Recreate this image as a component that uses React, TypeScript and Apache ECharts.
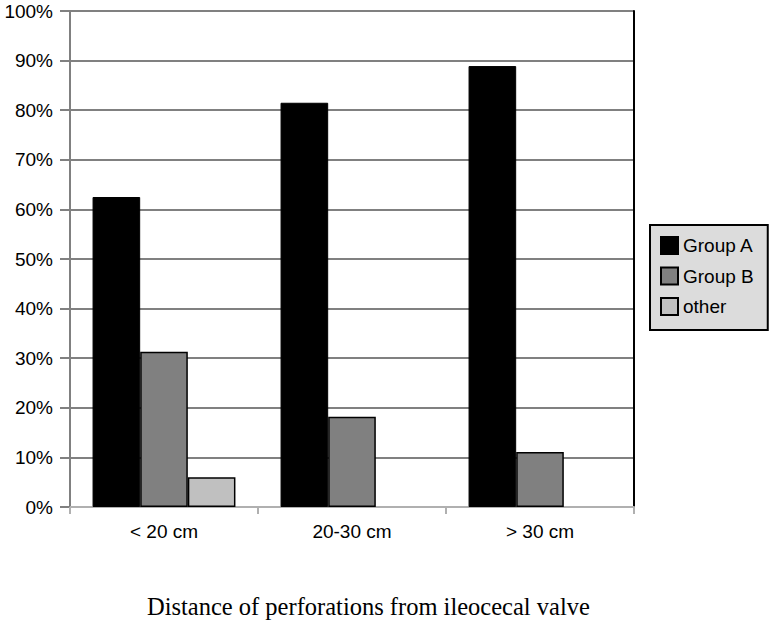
import React, { useEffect, useRef } from "react";
import * as echarts from "echarts";

const categories = ["< 20 cm", "20-30 cm", "> 30 cm"];
const groupA = [62.5, 81.5, 88.9];
const groupB = [31.3, 18.2, 11.1];
const other = [6.0, 0, 0];
const seriesNames = ["Group A", "Group B", "other"];
const xTitle = "Distance of perforations from ileocecal valve";

export default function App() {
  const ref = useRef<HTMLDivElement>(null);
  useEffect(() => {
    if (!ref.current) return;
    const chart = echarts.init(ref.current, null, { renderer: "svg" });
    const sans = "Liberation Sans, Arial, sans-serif";
    const withBorder = (vals: number[]) =>
      vals.map((v) => (v === 0 ? { value: v, itemStyle: { borderWidth: 0 } } : v));
    chart.setOption({
      animation: false,
      backgroundColor: "#fff",
      title: {
        text: xTitle,
        left: 147,
        top: 594,
        padding: 0,
        textStyle: {
          fontFamily: "Liberation Serif, Times New Roman, serif",
          fontSize: 24.5,
          fontWeight: "normal",
          color: "#000",
        },
      },
      legend: {
        orient: "vertical",
        left: 650,
        top: 225,
        data: seriesNames,
        backgroundColor: "#dcdcdc",
        borderColor: "#000",
        borderWidth: 2,
        padding: [11, 14, 14, 10],
        itemWidth: 17,
        itemHeight: 17,
        itemGap: 11.5,
        icon: "rect",
        textStyle: { fontFamily: sans, fontSize: 19, color: "#000", lineHeight: 18, padding: [0, 0, 0, 0] },
      },
      grid: { left: 70, right: 141, top: 11, bottom: 115, containLabel: false },
      xAxis: {
        type: "category",
        data: categories,
        axisLine: { show: true, lineStyle: { color: "#b0b0b0", width: 2 } },
        axisTick: { show: true, length: 7, lineStyle: { color: "#b0b0b0", width: 2 } },
        axisLabel: { fontFamily: sans, fontSize: 19, color: "#000", margin: 15 },
        splitLine: { show: false },
      },
      yAxis: [
        {
          type: "value",
          min: 0,
          max: 100,
          interval: 10,
          axisLine: { show: true, lineStyle: { color: "#808080", width: 2 } },
          axisTick: { show: true, length: 10, lineStyle: { color: "#808080", width: 2 } },
          axisLabel: { fontFamily: sans, fontSize: 19, color: "#000", margin: 17, formatter: "{value}%" },
          splitLine: { show: true, lineStyle: { color: "#808080", width: 2 } },
        },
        {
          type: "value",
          position: "right",
          min: 0,
          max: 100,
          interval: 10,
          axisLine: { show: true, lineStyle: { color: "#000", width: 2 } },
          axisTick: { show: false },
          axisLabel: { show: false },
          splitLine: { show: false },
        },
      ],
      series: [
        {
          name: seriesNames[0],
          type: "bar",
          data: withBorder(groupA),
          barGap: "0%",
          barCategoryGap: "24%",
          itemStyle: { color: "#000", borderColor: "#000", borderWidth: 1 },
        },
        {
          name: seriesNames[1],
          type: "bar",
          data: withBorder(groupB),
          barGap: "0%",
          barCategoryGap: "24%",
          itemStyle: { color: "#808080", borderColor: "#000", borderWidth: 1.5 },
        },
        {
          name: seriesNames[2],
          type: "bar",
          data: withBorder(other),
          barGap: "0%",
          barCategoryGap: "24%",
          itemStyle: { color: "#c0c0c0", borderColor: "#000", borderWidth: 1.5 },
        },
      ],
    });
    return () => chart.dispose();
  }, []);
  return (
    <div
      ref={ref}
      style={{ position: "fixed", left: 0, top: 0, width: 775, height: 622 }}
    />
  );
}
